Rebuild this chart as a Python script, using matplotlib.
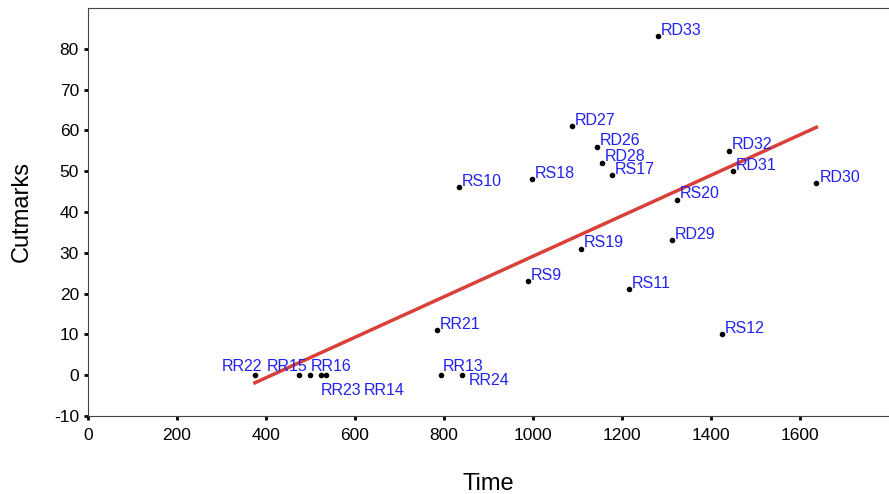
import numpy as np
import matplotlib.pyplot as plt

plt.rcParams['font.family'] = ['Liberation Sans', 'DejaVu Sans']
plt.rcParams['axes.unicode_minus'] = False

# site labels, time and cutmark counts
labels = ["RR22", "RR15", "RR16", "RR23", "RR14", "RR21", "RR13", "RR24",
          "RS9", "RS10", "RS18", "RD27", "RD26", "RD28", "RS17", "RS19",
          "RS11", "RD29", "RS20", "RD33", "RS12", "RD32", "RD31", "RD30"]
time = [375, 474, 499, 523, 534, 784, 793, 840,
        989, 834, 998, 1088, 1143, 1154, 1178, 1107,
        1216, 1312, 1324, 1281, 1425, 1440, 1449, 1637]
cutmarks = [0, 0, 0, 0, 0, 11, 0, 0,
            23, 46, 48, 61, 56, 52, 49, 31,
            21, 33, 43, 83, 10, 55, 50, 47]

# label offsets in pixels (dx, dy), default is just right/above the dot
offsets = {"RR22": (-33, 9), "RR15": (-32, 9), "RR16": (1, 9),
           "RR23": (0, -15), "RR14": (38, -15), "RR13": (2, 9),
           "RR24": (7, -5)}

fig = plt.figure(figsize=(8.89, 4.94), dpi=100)
ax = fig.add_axes([0.099, 0.158, 0.901, 0.826])

ax.scatter(time, cutmarks, s=9, color="black", zorder=3)
for lab, x, y in zip(labels, time, cutmarks):
    dx, dy = offsets.get(lab, (3, 6))
    ax.annotate(lab, (x, y), xytext=(dx * 0.72, dy * 0.72), textcoords="offset points",
                ha="left", va="center", fontsize=11.5, color="#2222ee")

# linear fit
k, b = np.polyfit(time, cutmarks, 1)
xs = np.array([min(time), max(time)])
ax.plot(xs, k * xs + b, color="#d9403a", lw=2.5, zorder=2)

ax.set_xlim(0, 1800)
ax.set_ylim(-10, 90)
ax.set_xticks(range(0, 1601, 200))
ax.set_yticks(range(-10, 81, 10))
ax.tick_params(direction="out", length=3, width=2, labelsize=12.5)
ax.tick_params(axis="x", pad=6)
for s in ["left", "bottom", "top"]:
    ax.spines[s].set_linewidth(0.8)
    ax.spines[s].set_color("#444444")
ax.spines["right"].set_visible(False)
ax.set_xlabel("Time", fontsize=17, labelpad=21)
ax.set_ylabel("Cutmarks", fontsize=17, labelpad=15)

fig.savefig("out.png")
